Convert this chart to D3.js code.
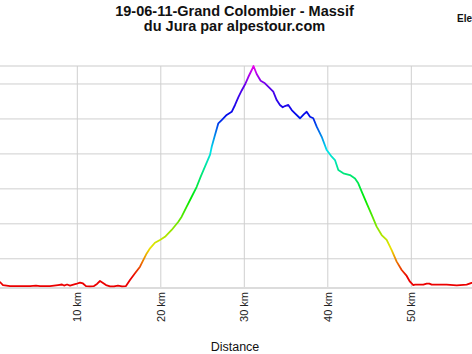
<!DOCTYPE html>
<html>
<head>
<meta charset="utf-8">
<script src="https://cdn.jsdelivr.net/npm/d3@7"></script>
<style>
  body { margin: 0; background: #fff; }
  svg { display: block; font-family: "Liberation Sans", Arial, sans-serif; }
</style>
</head>
<body>
<div id="chart"></div>
<script>
// profile: distance (km) and elevation (m)
var distKm = [0, 0.74, 1.10, 1.94, 3.14, 4.34, 5.05, 5.53, 6.73, 7.69, 8.17, 8.41, 8.77, 9.13, 9.84,
  10.32, 10.68, 11.04, 11.52, 12.00, 12.36, 12.72, 13.08, 13.44, 13.92, 14.39, 14.87, 15.35, 15.83,
  16.31, 16.91, 17.51, 17.90, 18.31, 18.71, 19.30, 19.90, 20.50, 21.30, 22.10, 22.50, 23.10, 23.70,
  24.30, 24.78, 25.29, 25.89, 26.10, 26.49, 26.89, 27.29, 27.89, 28.49, 28.89, 29.28, 29.69, 30.08,
  30.48, 30.89, 31.10, 31.48, 31.96, 32.47, 33.08, 33.47, 33.88, 34.27, 34.60, 34.87, 35.27, 35.68,
  36.07, 36.67, 37.15, 37.47, 37.87, 38.26, 38.67, 39.27, 39.87, 40.47, 40.86, 41.26, 41.86, 42.66,
  43.26, 43.65, 44.06, 44.66, 45.26, 45.85, 46.45, 47.05, 47.65, 48.25, 48.85, 49.45, 49.84, 50.24,
  50.44, 51.44, 51.84, 52.16, 52.44, 54.24, 55.44, 56.63, 57.23, 58.23];
var elevM = [270, 264, 247, 241, 241, 241, 244, 241, 241, 247, 250, 244, 250, 244, 253,
  261, 256, 241, 239, 241, 253, 270, 259, 247, 239, 239, 244, 239, 241,
  276, 314, 352, 390, 428, 457, 489, 505, 523, 562, 609, 638, 695, 752,
  809, 867, 924, 991, 1038, 1105, 1172, 1191, 1220, 1238, 1277, 1320, 1360, 1394,
  1437, 1477, 1500, 1454, 1416, 1401, 1372, 1353, 1305, 1277, 1264, 1271, 1277, 1248,
  1229, 1201, 1225, 1238, 1210, 1201, 1153, 1095, 1019, 981, 962, 905, 886, 876,
  857, 829, 781, 714, 648, 581, 533, 505, 447, 381, 333, 299, 266, 247,
  249, 249, 255, 255, 249, 249, 245, 249, 259, 270];

var xTicks = [10, 20, 30, 40, 50];
var yTicks = [400, 600, 800, 1000, 1200, 1400];
var titleLines = ["19-06-11-Grand Colombier - Massif", "du Jura par alpestour.com"];

var W = 472, H = 354;
var plotTop = 66, plotBottom = 288;

var svg = d3.select("#chart").append("svg")
  .attr("width", W)
  .attr("height", H);

var x = d3.scaleLinear().domain([0, 60]).range([-6.2, -6.2 + 501]);
var y = d3.scaleLinear().domain([230, 1500]).range([plotBottom, plotTop]);

// horizontal grid (y axis labels fall outside the crop)
var yAxis = d3.axisLeft(y).tickValues(yTicks).tickSize(-(W + 20)).tickFormat("");
svg.append("g")
  .attr("transform", "translate(0,0)")
  .call(yAxis)
  .call(function(g) { g.select(".domain").remove(); })
  .selectAll("line").attr("stroke", "#cfcfcf");

// top border and bottom line
svg.append("line").attr("x1", 0).attr("x2", W).attr("y1", plotTop).attr("y2", plotTop)
  .attr("stroke", "#dcdcdc").attr("stroke-width", 1.5);

// vertical grid
svg.selectAll(".vgrid").data(xTicks).enter().append("line")
  .attr("class", "vgrid")
  .attr("x1", function(d) { return x(d); })
  .attr("x2", function(d) { return x(d); })
  .attr("y1", plotTop).attr("y2", plotBottom)
  .attr("stroke", "#cfcfcf");

svg.append("line").attr("x1", 0).attr("x2", W).attr("y1", plotBottom).attr("y2", plotBottom)
  .attr("stroke", "#dcdcdc").attr("stroke-width", 2);

// x tick labels, rotated
svg.selectAll(".xlab").data(xTicks).enter().append("text")
  .attr("class", "xlab")
  .attr("transform", function(d) { return "translate(" + (x(d) + 4) + ",292) rotate(-90)"; })
  .attr("text-anchor", "end")
  .style("font-size", "11px")
  .attr("fill", "#222")
  .text(function(d) { return d + " km"; });

// colour by elevation
var grad = svg.append("defs").append("linearGradient")
  .attr("id", "elevGrad")
  .attr("gradientUnits", "userSpaceOnUse")
  .attr("x1", 0).attr("x2", 0)
  .attr("y1", plotBottom).attr("y2", plotTop);
var hueStops = [[0, 0], [0.05, 0], [0.1, 22], [0.18, 58], [0.4, 120], [0.62, 182], [0.78, 238], [0.9, 262], [1, 300]];
grad.selectAll("stop").data(hueStops).enter().append("stop")
  .attr("offset", function(d) { return d[0]; })
  .attr("stop-color", function(d) { return d3.hsl(d[1], 1, 0.46).toString(); });

var pts = distKm.map(function(d, i) { return [d, elevM[i]]; });
var line = d3.line()
  .x(function(d) { return x(d[0]); })
  .y(function(d) { return y(d[1]); });

svg.append("path")
  .datum(pts)
  .attr("d", line)
  .attr("fill", "none")
  .attr("stroke", "url(#elevGrad)")
  .attr("stroke-width", 1.8)
  .attr("stroke-linejoin", "round");

// title
svg.selectAll(".title").data(titleLines).enter().append("text")
  .attr("class", "title")
  .attr("x", 234.5)
  .attr("y", function(d, i) { return 16 + i * 14.7; })
  .attr("text-anchor", "middle")
  .style("font-size", "14.5px")
  .style("font-weight", "bold")
  .attr("fill", "#111")
  .text(function(d) { return d; });

// legend label (cut off at the edge)
svg.append("text")
  .attr("x", 457).attr("y", 22)
  .style("font-size", "10px")
  .style("font-weight", "bold")
  .attr("fill", "#111")
  .text("Elevation");

// x axis title
svg.append("text")
  .attr("x", 235).attr("y", 351)
  .attr("text-anchor", "middle")
  .style("font-size", "12.5px")
  .attr("fill", "#111")
  .text("Distance");
</script>
</body>
</html>
